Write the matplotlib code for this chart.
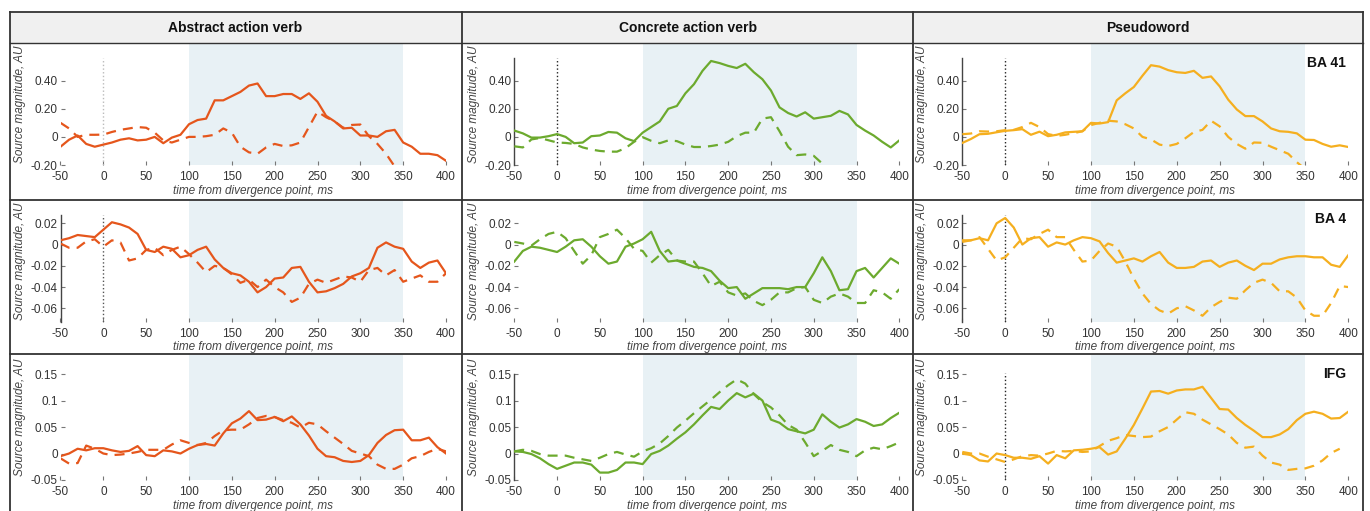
import numpy as np
import matplotlib
matplotlib.use('Agg')
import matplotlib.pyplot as plt
from matplotlib.lines import Line2D
from matplotlib.patches import Rectangle

plt.rcParams['font.family'] = ['Liberation Sans', 'DejaVu Sans']

nan = np.nan
t = np.arange(-50, 401, 10)

columns = ['Abstract action verb', 'Concrete action verb', 'Pseudoword']
regions = ['BA 41', 'BA 4', 'IFG']
colors = ['#E5561C', '#6CAA2E', '#F5AF1F']

# BA 41
abs_ba41 = [-0.07, -0.02, 0.01, -0.05, -0.07, -0.055, -0.04, -0.02, -0.01, -0.025,
            -0.02, 0.0, -0.045, -0.005, 0.015, 0.09, 0.12, 0.13, 0.26, 0.26,
            0.29, 0.32, 0.365, 0.38, 0.29, 0.29, 0.305, 0.305, 0.27, 0.31,
            0.25, 0.15, 0.11, 0.06, 0.065, 0.01, 0.01, 0.0, 0.04, 0.05,
            -0.04, -0.07, -0.12, -0.12, -0.13, -0.17]
abs_ba41_d = [0.10, 0.06, 0.0, 0.015, 0.015, 0.016, 0.035, 0.05, 0.06, 0.07,
              0.065, 0.03, -0.025, -0.04, -0.02, 0.0, 0.0, 0.005, 0.015, 0.06,
              0.03, -0.07, -0.11, -0.12, -0.075, -0.05, -0.065, -0.06, -0.04, 0.07,
              0.18, 0.14, 0.11, 0.065, 0.085, 0.088, 0.005, -0.05, -0.12, -0.21,
              nan, nan, nan, nan, nan, nan]
con_ba41 = [0.045, 0.025, -0.005, -0.005, 0.005, 0.02, 0.0, -0.045, -0.04, 0.005,
            0.01, 0.035, 0.03, -0.01, -0.03, 0.03, 0.07, 0.11, 0.2, 0.22,
            0.31, 0.375, 0.47, 0.54, 0.525, 0.505, 0.49, 0.52, 0.46, 0.41,
            0.33, 0.21, 0.17, 0.145, 0.175, 0.13, 0.14, 0.15, 0.185, 0.16,
            0.085, 0.045, 0.01, -0.035, -0.075, -0.025]
con_ba41_d = [-0.067, -0.075, -0.018, -0.008, -0.024, -0.04, -0.043, -0.05, -0.075, -0.09,
              -0.1, -0.105, -0.105, -0.08, -0.035, -0.002, -0.028, -0.045, -0.025, -0.03,
              -0.055, -0.072, -0.072, -0.065, -0.055, -0.035, 0.005, 0.03, 0.03, 0.13,
              0.14, 0.04, -0.07, -0.13, -0.125, -0.135, -0.19, nan, nan, nan,
              nan, nan, nan, nan, nan, nan]
pse_ba41 = [-0.043, -0.015, 0.019, 0.022, 0.033, 0.043, 0.048, 0.055, 0.015, 0.037,
            0.005, 0.015, 0.032, 0.036, 0.04, 0.1, 0.095, 0.105, 0.26, 0.31,
            0.355, 0.435, 0.51, 0.5, 0.475, 0.46, 0.455, 0.47, 0.42, 0.43,
            0.36, 0.265, 0.195, 0.148, 0.148, 0.11, 0.06, 0.04, 0.036, 0.025,
            -0.02, -0.022, -0.05, -0.07, -0.06, -0.072]
pse_ba41_d = [0.019, 0.024, 0.04, 0.038, 0.04, 0.048, 0.05, 0.07, 0.1, 0.07,
              0.02, 0.007, 0.015, 0.027, 0.04, 0.084, 0.1, 0.115, 0.11, 0.09,
              0.06, 0.0, -0.018, -0.055, -0.065, -0.05, -0.01, 0.035, 0.05, 0.115,
              0.075, 0.0, -0.05, -0.084, -0.04, -0.042, -0.07, -0.095, -0.12, -0.18,
              -0.23, nan, nan, nan, nan, nan]

# BA 4
abs_ba4 = [0.004, 0.006, 0.009, 0.008, 0.007, 0.014, 0.021, 0.019, 0.016, 0.01,
           -0.005, -0.007, -0.002, -0.004, -0.012, -0.01, -0.005, -0.002, -0.014, -0.022,
           -0.027, -0.029, -0.035, -0.045, -0.04, -0.032, -0.031, -0.022, -0.021, -0.035,
           -0.045, -0.044, -0.041, -0.037, -0.03, -0.027, -0.022, -0.003, 0.002, -0.002,
           -0.004, -0.016, -0.022, -0.017, -0.015, -0.027]
abs_ba4_d = [0.001, -0.003, -0.003, 0.003, 0.005, -0.002, 0.004, 0.002, -0.015, -0.013,
             -0.005, -0.003, -0.01, -0.005, -0.002, -0.009, -0.017, -0.026, -0.02, -0.022,
             -0.028, -0.036, -0.033, -0.04, -0.033, -0.04, -0.045, -0.054, -0.05, -0.037,
             -0.033, -0.036, -0.033, -0.03, -0.031, -0.035, -0.024, -0.022, -0.029, -0.024,
             -0.035, -0.032, -0.029, -0.035, -0.035, -0.027]
con_ba4 = [-0.016, -0.006, -0.002, -0.003, -0.005, -0.007, -0.002, 0.004, 0.005, -0.002,
           -0.011, -0.018, -0.016, -0.002, 0.001, 0.005, 0.012, -0.006, -0.016, -0.015,
           -0.018, -0.021, -0.022, -0.025, -0.034, -0.041, -0.04, -0.051, -0.046, -0.041,
           -0.041, -0.041, -0.042, -0.04, -0.04, -0.027, -0.012, -0.025, -0.043, -0.042,
           -0.025, -0.022, -0.031, -0.022, -0.013, -0.018]
con_ba4_d = [0.0025, 0.001, -0.001, 0.005, 0.01, 0.012, 0.006, -0.006, -0.018, -0.01,
             0.007, 0.01, 0.014, 0.006, -0.004, -0.006, -0.017, -0.01, -0.005, -0.015,
             -0.016, -0.016, -0.027, -0.039, -0.035, -0.045, -0.048, -0.046, -0.053, -0.057,
             -0.052, -0.045, -0.045, -0.041, -0.04, -0.052, -0.055, -0.049, -0.046, -0.049,
             -0.055, -0.055, -0.043, -0.045, -0.051, -0.042]
pse_ba4 = [0.004, 0.004, 0.006, 0.004, 0.02, 0.025, 0.016, 0.0, 0.006, 0.007,
           -0.002, 0.002, 0.0, 0.004, 0.007, 0.006, 0.003, -0.008, -0.017, -0.015,
           -0.013, -0.016, -0.011, -0.007, -0.017, -0.022, -0.022, -0.021, -0.016, -0.015,
           -0.021, -0.017, -0.015, -0.02, -0.024, -0.018, -0.018, -0.014, -0.012, -0.011,
           -0.011, -0.012, -0.012, -0.019, -0.021, -0.01]
pse_ba4_d = [0.0025, 0.004, 0.007, -0.004, -0.015, -0.012, -0.003, 0.006, 0.005, 0.01,
             0.014, 0.007, 0.007, -0.005, -0.016, -0.015, -0.006, 0.001, -0.002, -0.016,
             -0.032, -0.046, -0.056, -0.062, -0.065, -0.06, -0.058, -0.062, -0.067, -0.059,
             -0.054, -0.05, -0.051, -0.043, -0.036, -0.033, -0.036, -0.044, -0.044, -0.05,
             -0.062, -0.067, -0.067, -0.055, -0.039, -0.04]

# IFG
abs_ifg = [-0.005, 0.0, 0.009, 0.006, 0.01, 0.01, 0.006, 0.003, 0.005, 0.014,
           -0.003, -0.005, 0.006, 0.004, 0.0, 0.009, 0.016, 0.018, 0.015, 0.038,
           0.057, 0.066, 0.08, 0.063, 0.064, 0.069, 0.061, 0.07, 0.055, 0.034,
           0.009, -0.005, -0.007, -0.014, -0.016, -0.014, -0.003, 0.02, 0.035, 0.044,
           0.045, 0.025, 0.025, 0.03, 0.012, 0.0]
abs_ifg_d = [-0.009, -0.019, -0.018, 0.015, 0.009, 0.0, -0.003, -0.002, 0.0, 0.003,
             0.007, 0.007, 0.007, 0.017, 0.025, 0.02, 0.016, 0.02, 0.033, 0.044,
             0.045, 0.045, 0.055, 0.067, 0.071, 0.069, 0.063, 0.058, 0.049, 0.058,
             0.055, 0.042, 0.03, 0.018, 0.005, 0.0, -0.005, -0.021, -0.029, -0.029,
             -0.021, -0.009, -0.005, 0.003, 0.009, 0.004]
con_ifg = [0.004, 0.003, -0.001, -0.009, -0.02, -0.029, -0.023, -0.017, -0.017, -0.021,
           -0.036, -0.036, -0.031, -0.017, -0.017, -0.02, -0.001, 0.005, 0.015, 0.028,
           0.04, 0.055, 0.072, 0.088, 0.084, 0.1, 0.114, 0.106, 0.113, 0.1,
           0.064, 0.058, 0.046, 0.042, 0.038, 0.045, 0.074, 0.06, 0.049, 0.055,
           0.065, 0.06, 0.052, 0.055, 0.067, 0.077]
con_ifg_d = [0.004, 0.007, 0.005, -0.001, -0.004, -0.004, -0.004, -0.008, -0.011, -0.014,
             -0.008, -0.001, 0.003, -0.002, -0.006, 0.004, 0.01, 0.019, 0.033, 0.049,
             0.062, 0.076, 0.089, 0.102, 0.116, 0.129, 0.14, 0.132, 0.112, 0.097,
             0.087, 0.072, 0.054, 0.045, 0.021, -0.005, 0.005, 0.016, 0.007, 0.003,
             -0.005, 0.006, 0.011, 0.008, 0.014, 0.021]
pse_ifg = [0.0, -0.003, -0.013, -0.015, 0.0, -0.003, -0.008, -0.008, -0.01, -0.005,
           -0.019, -0.003, -0.009, 0.006, 0.007, 0.009, 0.012, -0.002, 0.004, 0.028,
           0.054, 0.085, 0.117, 0.118, 0.113, 0.119, 0.121, 0.121, 0.126, 0.105,
           0.084, 0.083, 0.067, 0.054, 0.043, 0.031, 0.031, 0.036, 0.046, 0.063,
           0.075, 0.079, 0.075, 0.066, 0.067, 0.079]
pse_ifg_d = [0.003, 0.0, 0.0, -0.006, -0.011, -0.016, -0.011, -0.005, -0.003, -0.004,
             0.0, 0.005, 0.004, 0.005, 0.003, 0.004, 0.014, 0.024, 0.029, 0.035,
             0.033, 0.031, 0.032, 0.042, 0.05, 0.064, 0.078, 0.075, 0.064, 0.055,
             0.046, 0.036, 0.02, 0.011, 0.013, -0.004, -0.017, -0.021, -0.031, -0.029,
             -0.028, -0.023, -0.013, 0.001, 0.009, nan]

solid = [[abs_ba41, con_ba41, pse_ba41],
         [abs_ba4, con_ba4, pse_ba4],
         [abs_ifg, con_ifg, pse_ifg]]
dashed = [[abs_ba41_d, con_ba41_d, pse_ba41_d],
          [abs_ba4_d, con_ba4_d, pse_ba4_d],
          [abs_ifg_d, con_ifg_d, pse_ifg_d]]

yticks = [[-0.2, 0, 0.2, 0.4], [-0.06, -0.04, -0.02, 0, 0.02], [-0.05, 0, 0.05, 0.1, 0.15]]
ytick_labels = [['-0.20', '0', '0.20', '0.40'],
                ['-0.06', '-0.04', '-0.02', '0', '0.02'],
                ['-0.05', '0', '0.05', '0.1', '0.15']]
ylims = [(-0.2, 0.668), (-0.0726, 0.041), (-0.05, 0.186)]
xticks = np.arange(-50, 401, 50)

# layout (pixels of the 1370x511 picture)
W, H = 1370, 511
row_px = [(43, 165), (201, 321.7), (355, 480)]
col_px = [(60.5, 446), (514.3, 899.3), (962.3, 1348.3)]
header_x = [235, 688, 1148]
xpad = [4.5, 4.5, 4.0]
xlab_y = [-0.21, -0.21, -0.205]

# which panels show the left axis line / the dotted zero line (top value, colour)
spine_top = [[None, 0.56, 0.56], [0.028, None, 0.028], [None, 0.15, None]]
zero_line = [[(0.56, '#bbbbbb'), (0.56, '#222222'), (0.56, '#222222')],
             [(0.028, '#555555'), None, (0.028, '#222222')],
             [None, None, (0.152, '#222222')]]

fig = plt.figure(figsize=(13.7, 5.11), dpi=100)

def fx(px):
    return px / W

def fy(py):
    return 1 - py / H

# table grid
fig.add_artist(Rectangle((fx(10), fy(43)), fx(1363) - fx(10), fy(12) - fy(43),
                         transform=fig.transFigure, facecolor='#f0f0f0',
                         edgecolor='none', zorder=0))
for yy in [12, 43, 200, 354]:
    fig.add_artist(Line2D([fx(10), fx(1363)], [fy(yy), fy(yy)], transform=fig.transFigure,
                          color='#333333', lw=1.3 if yy != 43 else 1.0, zorder=5))
for xx in [10, 462, 913, 1363]:
    fig.add_artist(Line2D([fx(xx), fx(xx)], [fy(12), fy(511)], transform=fig.transFigure,
                          color='#333333', lw=1.3, zorder=5))

for j, name in enumerate(columns):
    fig.text(fx(header_x[j]), fy(28), name, ha='center',
             va='center', fontsize=10, fontweight='bold', color='#111111')

for i in range(3):
    for j in range(3):
        top, bot = row_px[i]
        left, right = col_px[j]
        ax = fig.add_axes([fx(left), fy(bot), fx(right - left), (bot - top) / H])
        ax.set_facecolor('none')
        ax.axvspan(100, 350, color='#E8F1F5', lw=0, zorder=0)
        ax.plot(t, solid[i][j], color=colors[j], lw=1.6, zorder=3)
        ax.plot(t, dashed[i][j], color=colors[j], lw=1.6, ls=(0, (4.5, 3.2)), zorder=3)
        if zero_line[i][j] is not None:
            ztop, zc = zero_line[i][j]
            ax.vlines(0, ylims[i][0], ztop, colors=zc, linestyles=':', lw=1.0, zorder=2)
        ax.set_xlim(-50, 400)
        ax.set_ylim(*ylims[i])
        for s in ['top', 'right', 'bottom']:
            ax.spines[s].set_visible(False)
        if spine_top[i][j] is None:
            ax.spines['left'].set_visible(False)
        else:
            ax.spines['left'].set_bounds(ylims[i][0], spine_top[i][j])
            ax.spines['left'].set_color('#444444')
            ax.spines['left'].set_linewidth(1.0)
        ax.set_xticks(xticks)
        ax.set_xticklabels([str(v) for v in xticks])
        ax.set_yticks(yticks[i])
        ax.set_yticklabels(ytick_labels[i])
        ax.tick_params(axis='x', direction='in', length=3, color='#777777', pad=xpad[i],
                       labelsize=8.5, labelcolor='#333333')
        ax.tick_params(axis='y', direction='in', length=3, color='#777777', pad=2,
                       labelsize=8.5, labelcolor='#333333')
        ax.set_xlabel('time from divergence point, ms', fontsize=8.5, style='italic',
                      color='#444444')
        ax.xaxis.set_label_coords(0.5, xlab_y[i])
        ax.xaxis.label.set_va('center')
        ax.set_ylabel('Source magnitude, AU', fontsize=8.5, style='italic', color='#444444')
        ax.yaxis.set_label_coords(-0.105, 0.5)
        ax.yaxis.label.set_va('center')
        if j == 2:
            ax.text(0.995, 0.85 if i > 0 else 0.84, regions[i], transform=ax.transAxes,
                    ha='right', va='center', fontsize=10, fontweight='bold', color='#111111')

fig.savefig('out.png', dpi=100)
